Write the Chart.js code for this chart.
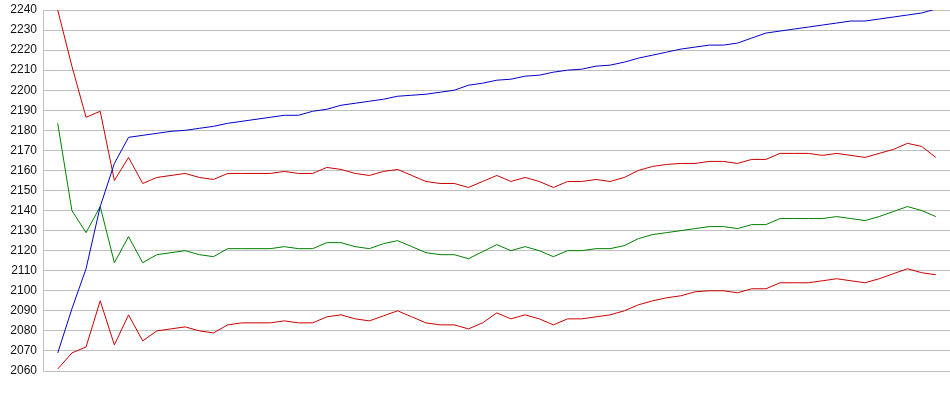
<!DOCTYPE html>
<html>
<head>
<meta charset="utf-8">
<script src="https://cdn.jsdelivr.net/npm/chart.js@4"></script>
<style>
  html, body { margin: 0; padding: 0; background: #fff; }
  #wrap { width: 950px; height: 395px; }
</style>
</head>
<body>
<div id="wrap"><canvas id="chart"></canvas></div>
<script>
// --- data (63 points per line) ---
const blueLine = [
  2069, 2091, 2111, 2142, 2163.5, 2176.5, 2177.5, 2178.5, 2179.5, 2180, 2181, 2182, 2183.5,
  2184.5, 2185.5, 2186.5, 2187.5, 2187.5, 2189.5, 2190.5, 2192.5, 2193.5, 2194.5, 2195.5, 2197,
  2197.5, 2198, 2199, 2200, 2202.5, 2203.5, 2205, 2205.5, 2207, 2207.5, 2209, 2210, 2210.5,
  2212, 2212.5, 2214, 2216, 2217.5, 2219, 2220.5, 2221.5, 2222.5, 2222.5, 2223.5, 2226, 2228.5,
  2229.5, 2230.5, 2231.5, 2232.5, 2233.5, 2234.5, 2234.5, 2235.5, 2236.5, 2237.5, 2238.5, 2240.5
];
const upperRed = [
  2240, 2212, 2186.5, 2189.5, 2155, 2166.5, 2153.5, 2156.5, 2157.5, 2158.5, 2156.5, 2155.5, 2158.5,
  2158.5, 2158.5, 2158.5, 2159.5, 2158.5, 2158.5, 2161.5, 2160.5, 2158.5, 2157.5, 2159.5, 2160.5,
  2157.5, 2154.5, 2153.5, 2153.5, 2151.5, 2154.5, 2157.5, 2154.5, 2156.5, 2154.5, 2151.5, 2154.5, 2154.5,
  2155.5, 2154.5, 2156.5, 2160, 2162, 2163, 2163.5, 2163.5, 2164.5, 2164.5, 2163.5, 2165.5, 2165.5,
  2168.5, 2168.5, 2168.5, 2167.5, 2168.5, 2167.5, 2166.5, 2168.5, 2170.5, 2173.5, 2172, 2166.5
];
const greenLine = [
  2183.5, 2140, 2129, 2142, 2114, 2127, 2114, 2118, 2119, 2120, 2118, 2117, 2121,
  2121, 2121, 2121, 2122, 2121, 2121, 2124, 2124, 2122, 2121, 2123.5, 2125,
  2122, 2119, 2118, 2118, 2116, 2119.5, 2123, 2120, 2122, 2120, 2117, 2120, 2120,
  2121, 2121, 2122.5, 2126, 2128, 2129, 2130, 2131, 2132, 2132, 2131, 2133, 2133,
  2136, 2136, 2136, 2136, 2137, 2136, 2135, 2137, 2139.5, 2142, 2140, 2137
];
const lowerRed = [
  2061, 2069, 2072, 2095, 2073, 2088, 2075, 2080, 2081, 2082, 2080, 2079, 2083,
  2084, 2084, 2084, 2085, 2084, 2084, 2087, 2088, 2086, 2085, 2087.5, 2090,
  2087, 2084, 2083, 2083, 2081, 2084, 2089, 2086, 2088, 2086, 2083, 2086, 2086,
  2087, 2088, 2090, 2093, 2095, 2096.5, 2097.5, 2099.5, 2100, 2100, 2099, 2101, 2101,
  2104, 2104, 2104, 2105, 2106, 2105, 2104, 2106, 2108.5, 2111, 2109, 2108
];
const yTicks = [2060, 2070, 2080, 2090, 2100, 2110, 2120, 2130, 2140, 2150, 2160, 2170, 2180, 2190, 2200, 2210, 2220, 2230, 2240];

const gridColor = '#c0c0c0';

function toPoints(values) {
  return values.map((v, i) => ({ x: i, y: v }));
}

function lineSet(label, values, color) {
  return {
    label: label,
    data: toPoints(values),
    borderColor: color,
    borderWidth: 1,
    pointRadius: 0,
    tension: 0,
    fill: false
  };
}

const ctx = document.getElementById('chart').getContext('2d');
new Chart(ctx, {
  type: 'line',
  data: {
    datasets: [
      lineSet('Blue', blueLine, '#0000cc'),
      lineSet('Upper', upperRed, '#cc0000'),
      lineSet('Middle', greenLine, '#008000'),
      lineSet('Lower', lowerRed, '#cc0000')
    ]
  },
  options: {
    responsive: true,
    maintainAspectRatio: false,
    animation: false,
    layout: { padding: { top: 10, bottom: 24, left: 0, right: 0 } },
    plugins: { legend: { display: false }, tooltip: { enabled: false } },
    scales: {
      x: {
        type: 'linear',
        min: -1.04,
        max: 63,
        display: false
      },
      y: {
        min: yTicks[0],
        max: yTicks[yTicks.length - 1],
        afterFit: function (scale) {
          scale.width = 43;
          scale.paddingTop = 0;
          scale.paddingBottom = 0;
        },
        afterBuildTicks: function (scale) {
          scale.ticks = yTicks.map(v => ({ value: v }));
        },
        grid: { color: gridColor, lineWidth: 1, drawTicks: false },
        border: { display: true, color: gridColor, width: 1 },
        ticks: {
          padding: 6,
          color: '#111',
          font: { family: 'Liberation Sans, Arial, sans-serif', size: 12 },
          callback: function (value) { return String(value); }
        }
      }
    }
  }
});
</script>
</body>
</html>
